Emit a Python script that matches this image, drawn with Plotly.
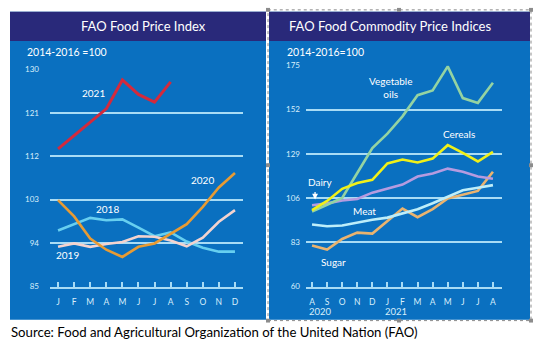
import plotly.graph_objects as go

W, H = 533, 346

# ---- FAO Food Price Index (monthly, 2014-2016 = 100) ----
months_ffpi = ["J", "F", "M", "A", "M", "J", "J", "A", "S", "O", "N", "D"]
ffpi_2021 = [113.5, 116.3, 119.2, 121.8, 127.8, 124.8, 123.2, 127.4]
ffpi_2020 = [102.9, 99.5, 94.9, 92.6, 91.1, 93.2, 93.9, 95.9, 97.9, 101.5, 105.5, 108.5]
ffpi_2018 = [96.6, 97.9, 99.2, 98.7, 98.9, 97.2, 95.4, 96.2, 94.3, 93.0, 92.2, 92.2]
ffpi_2019 = [93.2, 93.9, 93.2, 93.8, 94.2, 95.4, 95.3, 94.5, 93.3, 95.1, 98.4, 100.8]
ffpi_ticks = [85, 94, 103, 112, 121, 130]

# ---- FAO Food Commodity Price Indices (Aug 2020 - Aug 2021) ----
months_cpi = ["A", "S", "O", "N", "D", "J", "F", "M", "A", "M", "J", "J", "A"]
veg_oils = [99, 102.5, 106, 119, 132, 139.5, 148.5, 159.5, 162, 174.5, 158, 155.5, 166]
cereals = [99.7, 104.5, 110.8, 113.8, 115.5, 124, 126, 124.5, 126.5, 133.5, 129.5, 125, 130]
dairy = [102.2, 103.2, 104.7, 105.5, 108.8, 111, 113, 117.2, 118.8, 121.3, 119.7, 117.2, 116]
meat = [92.2, 91.3, 91.7, 93.3, 94.7, 95.8, 98, 100.2, 103.3, 106.8, 110, 111.3, 112.7]
sugar = [81.3, 79.2, 84.7, 88, 87.5, 93.8, 100.5, 96, 100.2, 105.8, 107.7, 109.7, 119.7]
cpi_ticks = [60, 83, 106, 129, 152, 175]

PANEL = "#0a70c0"
NAVY = "#29297a"
GRID = "#a9dcf5"
TICK = "#d8eefb"
FONT = "Lato"


def px_x(p):
    return p / W


def px_y(p):
    return 1 - p / H


fig = go.Figure()

left_series = [
    ("2018", ffpi_2018, "#67cff0", 2.6),
    ("2019", ffpi_2019, "#f3d3cf", 2.6),
    ("2020", ffpi_2020, "#e89b33", 2.6),
    ("2021", ffpi_2021, "#d42a3c", 3.0),
]
for name, vals, col, w in left_series:
    fig.add_trace(go.Scatter(
        x=list(range(len(vals))), y=vals, mode="lines", name=name,
        line=dict(color=col, width=w), xaxis="x", yaxis="y",
        hoverinfo="skip"))

right_series = [
    ("Sugar", sugar, "#e9b36f"),
    ("Meat", meat, "#bdeefa"),
    ("Dairy", dairy, "#b59be0"),
    ("Vegetable oils", veg_oils, "#94d3a2"),
    ("Cereals", cereals, "#f0f018"),
]
for name, vals, col in right_series:
    fig.add_trace(go.Scatter(
        x=list(range(len(vals))), y=vals, mode="lines", name=name,
        line=dict(color=col, width=2.6), xaxis="x2", yaxis="y2",
        hoverinfo="skip"))

axis_common = dict(showgrid=False, zeroline=False, fixedrange=True)

fig.update_layout(
    width=W, height=H,
    margin=dict(l=0, r=0, t=0, b=0),
    paper_bgcolor="white",
    plot_bgcolor="rgba(0,0,0,0)",
    showlegend=False,
    font=dict(family=FONT, color="white"),
    xaxis=dict(
        domain=[px_x(50), px_x(243)], range=[-0.5, 11.5],
        tickmode="array", tickvals=list(range(12)), ticktext=months_ffpi,
        ticks="inside", ticklen=5, tickwidth=1.5, tickcolor=GRID,
        showline=True, linecolor=GRID, linewidth=2,
        tickfont=dict(size=8.5, color=TICK, family=FONT),
        ticklabelstandoff=6,
        anchor="y", **axis_common),
    yaxis=dict(
        domain=[px_y(290), px_y(66)], range=[84.95, 130.05],
        tickmode="array", tickvals=ffpi_ticks,
        showgrid=True, gridcolor=GRID, gridwidth=2,
        tickfont=dict(size=8, color=TICK, family=FONT),
        ticklabelstandoff=10, anchor="x", zeroline=False, fixedrange=True),
    xaxis2=dict(
        domain=[px_x(306), px_x(502)], range=[-0.4, 12.6],
        tickmode="array", tickvals=list(range(13)), ticktext=months_cpi,
        ticks="inside", ticklen=5, tickwidth=1.5, tickcolor=GRID,
        showline=True, linecolor=GRID, linewidth=2,
        tickfont=dict(size=8.5, color=TICK, family=FONT),
        ticklabelstandoff=6,
        anchor="y2", **axis_common),
    yaxis2=dict(
        domain=[px_y(290), px_y(62)], range=[59.9, 175.1],
        tickmode="array", tickvals=cpi_ticks,
        showgrid=True, gridcolor=GRID, gridwidth=2,
        tickfont=dict(size=8, color=TICK, family=FONT),
        ticklabelstandoff=5, anchor="x2", zeroline=False, fixedrange=True),
)

shapes = [
    # panel backgrounds
    dict(type="rect", xref="paper", yref="paper", layer="below",
         x0=px_x(10), x1=px_x(266), y0=px_y(324), y1=px_y(7),
         fillcolor=PANEL, line=dict(width=0)),
    dict(type="rect", xref="paper", yref="paper", layer="below",
         x0=px_x(269), x1=px_x(530), y0=px_y(324), y1=px_y(7),
         fillcolor=PANEL, line=dict(width=0)),
    # title bars
    dict(type="rect", xref="paper", yref="paper", layer="below",
         x0=px_x(10), x1=px_x(266), y0=px_y(37), y1=px_y(7),
         fillcolor=NAVY, line=dict(width=0)),
    dict(type="rect", xref="paper", yref="paper", layer="below",
         x0=px_x(269), x1=px_x(530), y0=px_y(37), y1=px_y(7),
         fillcolor=NAVY, line=dict(width=0)),
    # dotted selection frame around the right panel
    dict(type="rect", xref="paper", yref="paper", layer="above",
         x0=px_x(268), x1=px_x(531), y0=px_y(325), y1=px_y(5),
         line=dict(color="#8c8c8c", width=1, dash="dot")),
]
# frame handles
for hx in (268, 399, 531):
    for hy in (5, 165, 325):
        if hx == 399 and hy == 165:
            continue
        shapes.append(dict(type="rect", xref="paper", yref="paper", layer="above",
                           x0=px_x(hx - 2), x1=px_x(hx + 2),
                           y0=px_y(hy + 2), y1=px_y(hy - 2),
                           fillcolor="#8c8c8c", line=dict(width=0)))
fig.update_layout(shapes=shapes)


def label(text, x, y, size, color="white", xanchor="center", **kw):
    return dict(text=text, x=x, y=y, xanchor=xanchor, yanchor="middle",
                showarrow=False, font=dict(size=size, color=color, family=FONT), **kw)


ann = []
# titles
ann.append(label("FAO Food Price Index", px_x(143), px_y(22), 13,
                 xref="paper", yref="paper"))
ann.append(label("FAO Food Commodity Price Indices", px_x(287), px_y(22), 13,
                 xanchor="left", xref="paper", yref="paper"))
ann.append(label("2014-2016 =100", px_x(25), px_y(48), 10.5,
                 xanchor="left", xref="paper", yref="paper"))
ann.append(label("2014-2016=100", px_x(285), px_y(48), 10.5,
                 xanchor="left", xref="paper", yref="paper"))

# series labels, left panel
for txt, x, y in [("2021", 2.2, 125), ("2020", 9.0, 107),
                  ("2018", 3.05, 101), ("2019", 0.6, 91.6)]:
    ann.append(label(txt, x, y, 10, xref="x", yref="y"))

# series labels, right panel
for txt, x, y in [("Vegetable<br>oils", 5.2, 163.5), ("Cereals", 9.75, 139.5),
                  ("Dairy", 0.55, 114.5), ("Meat", 3.5, 99.5), ("Sugar", 1.4, 72.5)]:
    ann.append(label(txt, x, y, 10, xref="x2", yref="y2"))
ann.append(dict(text="", xref="x2", yref="y2", x=0.2, y=105.2, ax=0, ay=-9,
                showarrow=True, arrowhead=2, arrowsize=0.9, arrowwidth=1.3,
                arrowcolor="white"))

# year labels under the commodity axis
for txt, x in [("2020", 0.55), ("2021", 5.6)]:
    ann.append(label(txt, x, px_y(316), 9.5, color=TICK, xref="x2", yref="paper"))

# source line
ann.append(label("Source: Food and Agricultural Organization of the United Nation (FAO)",
                 px_x(9), px_y(337), 13.2, color="black", xanchor="left",
                 xref="paper", yref="paper"))

fig.update_layout(annotations=ann)

fig.write_html("out.html")
